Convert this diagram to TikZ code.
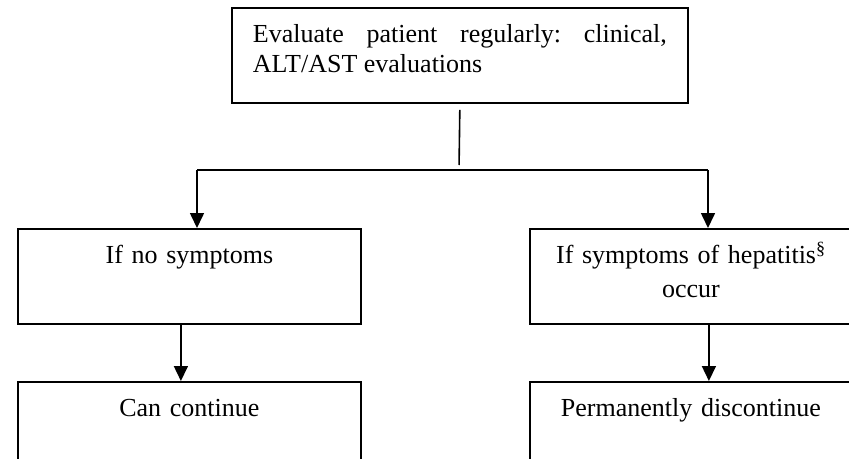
\documentclass[tikz,border=0pt]{standalone}
\usepackage{fontspec}
\setmainfont{Liberation Serif}
\usetikzlibrary{arrows.meta}
\frenchspacing

\begin{document}
\begin{tikzpicture}[x=1pt,y=-1pt,
    box/.style={draw,line width=1.8pt,anchor=north west,inner xsep=5pt,inner ysep=5pt,
      align=center,text width=333pt,text height=30pt,text depth=55pt,
      font=\fontsize{26}{34}\selectfont},
    link/.style={line width=1.6pt},
    arr/.style={line width=1.6pt,-{Triangle[width=14pt,length=15pt]}}]
      \clip[use as bounding box] (0,0) rectangle (849,458);

      \node[box,text width=414pt,inner xsep=21pt,align=justify,
        font=\fontsize{26}{30}\selectfont] (eval) at (231,7)
        {Evaluate patient regularly: clinical,\linebreak ALT/AST evaluations};

      \node[box] (nosym) at (17,228) {If no symptoms};
      \node[box,text width=312pt] (hep) at (529,228) {If symptoms of hepatitis\textsuperscript{\S}\\occur};

      \node[box] (cont) at (17,381) {Can continue};
      \node[box,text width=312pt] (stop) at (529,381) {Permanently discontinue};

      \coordinate (split) at (459,170);
      \coordinate (lsplit) at (197,170);
      \coordinate (rsplit) at (708,170);

      \draw[link,shorten <=6pt,shorten >=5pt] (eval.south) -- (split);
      \draw[link] (lsplit) -- (rsplit);

      \draw[arr] (lsplit) -- (lsplit |- nosym.north);
      \draw[arr] (rsplit) -- (rsplit |- hep.north);

      \draw[arr] ([xshift=-8.5pt]nosym.south) -- ([xshift=-8.5pt]cont.north);
      \draw[arr] ([xshift=18pt]hep.south) -- ([xshift=18pt]stop.north);
    \end{tikzpicture}
\end{document}
